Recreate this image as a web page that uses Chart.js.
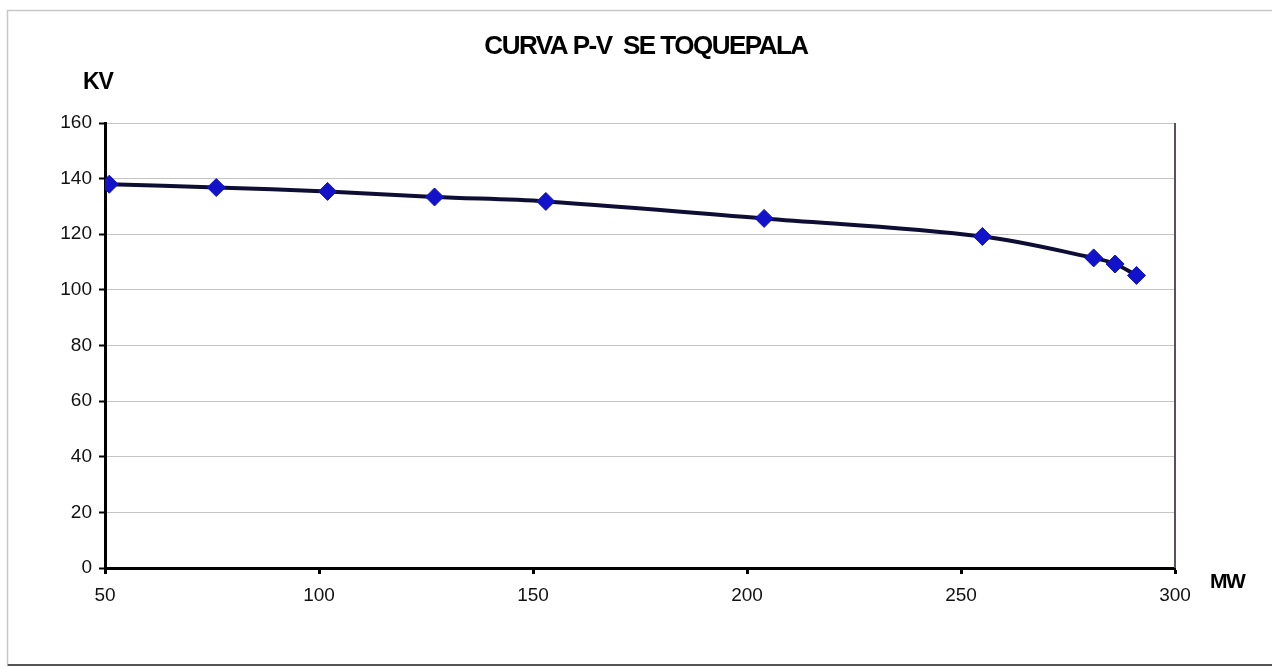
<!DOCTYPE html>
<html>
<head>
<meta charset="utf-8">
<script src="https://cdn.jsdelivr.net/npm/chart.js@4"></script>
<style>
  html, body { margin: 0; padding: 0; background: #fff; }
  #c { display: block; }
</style>
</head>
<body>
<canvas id="c" width="1272" height="668"></canvas>
<script>
// P-V curve, SE Toquepala
const mwValues = [51, 76, 102, 127, 153, 204, 255, 281, 286, 291];
const kvValues = [138, 136.8, 135.4, 133.4, 131.8, 125.7, 119.2, 111.5, 109.3, 105.2];
const titleText = 'CURVA P-V  SE TOQUEPALA';
const yLabel = 'KV';
const xLabel = 'MW';

const points = mwValues.map((x, i) => ({x: x, y: kvValues[i]}));

const decor = {
  id: 'decor',
  beforeDraw(chart) {
    const ctx = chart.ctx;
    ctx.save();
    ctx.fillStyle = '#fff';
    ctx.fillRect(0, 0, chart.width, chart.height);
    // outer frame
    ctx.strokeStyle = '#c8c8c8';
    ctx.lineWidth = 1.5;
    ctx.beginPath();
    ctx.moveTo(1290, 10.5);
    ctx.lineTo(7.5, 10.5);
    ctx.lineTo(7.5, 664);
    ctx.stroke();
    ctx.strokeStyle = '#555';
    ctx.lineWidth = 2;
    ctx.beginPath();
    ctx.moveTo(7.5, 665);
    ctx.lineTo(1290, 665);
    ctx.stroke();
    ctx.restore();
  },
  afterDraw(chart) {
    const ctx = chart.ctx;
    const a = chart.chartArea;
    ctx.save();
    // right edge of plot area
    ctx.strokeStyle = '#5a5060';
    ctx.lineWidth = 2;
    ctx.beginPath();
    ctx.moveTo(a.right, a.top);
    ctx.lineTo(a.right, a.bottom);
    ctx.stroke();
    ctx.fillStyle = '#000';
    ctx.textBaseline = 'middle';
    ctx.font = 'bold 26px "Liberation Sans", Arial, sans-serif';
    ctx.letterSpacing = '-1.5px';
    ctx.textAlign = 'center';
    ctx.fillText(titleText, 646, 47);
    ctx.font = 'bold 23px "Liberation Sans", Arial, sans-serif';
    ctx.letterSpacing = '-1px';
    ctx.textAlign = 'left';
    ctx.fillText(yLabel, 83, 83);
    ctx.font = 'bold 21px "Liberation Sans", Arial, sans-serif';
    ctx.letterSpacing = '-1.5px';
    ctx.fillText(xLabel, 1210, 582);
    ctx.restore();
  }
};

new Chart(document.getElementById('c'), {
  type: 'line',
  plugins: [decor],
  data: {
    datasets: [{
      data: points,
      borderColor: '#0e0e34',
      borderWidth: 4,
      tension: 0.35,
      pointStyle: 'rectRot',
      pointRadius: 9,
      pointBackgroundColor: '#1212c8',
      pointBorderColor: '#1212c8',
      pointBorderWidth: 1
    }]
  },
  options: {
    responsive: false,
    animation: false,
    layout: { padding: { top: 123, right: 97, left: 0, bottom: 0 } },
    plugins: {
      legend: { display: false },
      tooltip: { enabled: false }
    },
    scales: {
      x: {
        type: 'linear',
        min: 50,
        max: 300,
        afterFit(scale) { scale.height = 100; },
        border: { color: '#000', width: 3 },
        grid: { drawOnChartArea: false, tickLength: 6, tickColor: '#000', tickWidth: 3 },
        ticks: {
          stepSize: 50,
          color: '#111',
          padding: 10,
          font: { family: '"Liberation Sans", Arial, sans-serif', size: 19 }
        }
      },
      y: {
        min: 0,
        max: 160,
        afterFit(scale) { scale.width = 105; },
        border: { color: '#000', width: 3 },
        grid: { color: '#c4c4c4', lineWidth: 1, tickLength: 6, tickColor: '#000', tickWidth: 2 },
        ticks: {
          stepSize: 20,
          color: '#111',
          padding: 7,
          font: { family: '"Liberation Sans", Arial, sans-serif', size: 19 }
        }
      }
    }
  }
});
</script>
</body>
</html>
